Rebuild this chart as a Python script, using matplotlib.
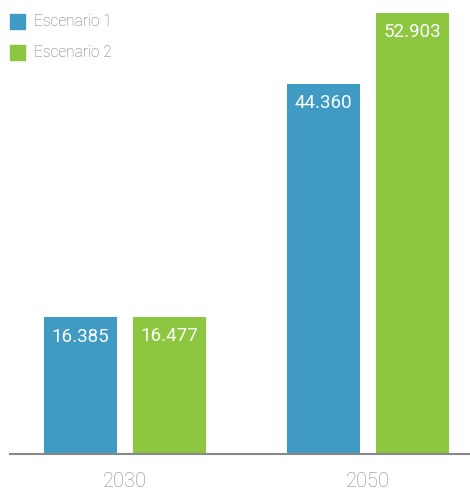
import numpy as np
import matplotlib.pyplot as plt
from matplotlib.patches import Rectangle

# datos
anios = ["2030", "2050"]
escenario_1 = [16385, 44360]
escenario_2 = [16477, 52903]
series = ["Escenario 1", "Escenario 2"]
colores = ["#3f9bc4", "#8dc63f"]

def fmt(v):
    return f"{v:,}".replace(",", ".")

fig = plt.figure(figsize=(4.7, 4.95), dpi=100)
ax = fig.add_axes([10 / 470, 1 - 454 / 495, 460 / 470, (454 - 13) / 495])

x = np.arange(len(anios))
ancho = 0.30
desp = 0.183

for vals, col, d in [(escenario_1, colores[0], -desp), (escenario_2, colores[1], desp)]:
    barras = ax.bar(x + d, vals, width=ancho, color=col, zorder=2)
    for b, v in zip(barras, vals):
        ax.text(b.get_x() + b.get_width() / 2, v - 2300, fmt(v),
                ha="center", va="center", color="white", fontsize=13.5,
                family="Roboto", zorder=3)

ax.set_xlim(-0.473, 1.420)
ax.set_ylim(0, 52903)
ax.set_yticks([])
ax.set_xticks(x)
ax.set_xticklabels(anios, fontsize=14.5, color="#8a8a8a", family="Roboto", fontweight="light")
ax.tick_params(axis="x", length=0, pad=13)
for s in ["top", "right", "left"]:
    ax.spines[s].set_visible(False)
ax.spines["bottom"].set_color("#888888")
ax.spines["bottom"].set_linewidth(1.5)

# leyenda manual
for i, (nom, col) in enumerate(zip(series, colores)):
    y = 14 + i * 31
    fig.patches.append(Rectangle((10 / 470, 1 - (y + 15) / 495), 15 / 470, 15 / 495,
                                 transform=fig.transFigure, color=col))
    fig.text(34 / 470, 1 - (y + 7.5) / 495, nom, va="center", ha="left",
             fontsize=11.2, color="#707070", family="Roboto", fontweight="light")

fig.savefig("out.png", dpi=100)
